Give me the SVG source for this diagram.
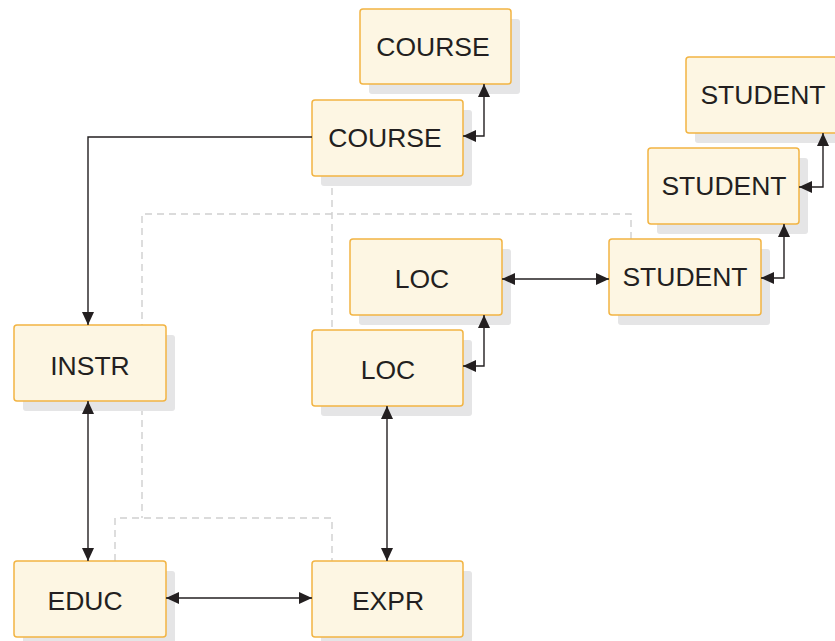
<svg xmlns="http://www.w3.org/2000/svg" width="835" height="641" viewBox="0 0 835 641">
<style>
.sh{fill:#e5e5e6}
.bx{fill:#fdf6e3;stroke:#f2b443;stroke-width:1.5}
.t{font-family:"Liberation Sans",Arial,sans-serif;font-size:26.5px;fill:#231f20;text-anchor:middle}
.c{fill:none;stroke:#231f20;stroke-width:1.4}
.d{fill:none;stroke:#cfcfcf;stroke-width:1.4;stroke-dasharray:7,5}
</style>
<defs>
<marker id="ah" markerUnits="userSpaceOnUse" markerWidth="14" markerHeight="14" refX="13" refY="7" orient="auto-start-reverse">
<path d="M0,1 L13,7 L0,13 z" fill="#231f20"/>
</marker>
</defs>
<g id="dashed">
<path class="d" d="M631,239 V214 H142 V518"/>
<path class="d" d="M115,561 V518 H332 V561"/>
<path class="d" d="M332,176 V330"/>
</g>
<g id="n-course1"><rect class="sh" x="369" y="19" width="151" height="75" rx="3"/><rect class="bx" x="360" y="9" width="151" height="75" rx="3"/><text class="t" x="433" y="56">COURSE</text></g>
<g id="n-course2"><rect class="sh" x="321" y="110" width="151" height="76" rx="3"/><rect class="bx" x="312" y="100" width="151" height="76" rx="3"/><text class="t" x="385" y="147">COURSE</text></g>
<g id="n-student1"><rect class="sh" x="695" y="67" width="151" height="76" rx="3"/><rect class="bx" x="686" y="57" width="151" height="76" rx="3"/><text class="t" x="763" y="104">STUDENT</text></g>
<g id="n-student2"><rect class="sh" x="657" y="158" width="151" height="76" rx="3"/><rect class="bx" x="648" y="148" width="151" height="76" rx="3"/><text class="t" x="724" y="195">STUDENT</text></g>
<g id="n-student3"><rect class="sh" x="618" y="249" width="152" height="76" rx="3"/><rect class="bx" x="609" y="239" width="152" height="76" rx="3"/><text class="t" x="685" y="286">STUDENT</text></g>
<g id="n-loc1"><rect class="sh" x="359" y="249" width="152" height="76" rx="3"/><rect class="bx" x="350" y="239" width="152" height="76" rx="3"/><text class="t" x="422" y="288">LOC</text></g>
<g id="n-loc2"><rect class="sh" x="321" y="340" width="151" height="76" rx="3"/><rect class="bx" x="312" y="330" width="151" height="76" rx="3"/><text class="t" x="388" y="379">LOC</text></g>
<g id="n-instr"><rect class="sh" x="23" y="335" width="152" height="76" rx="3"/><rect class="bx" x="14" y="325" width="152" height="76" rx="3"/><text class="t" x="90" y="375">INSTR</text></g>
<g id="n-educ"><rect class="sh" x="23" y="571" width="152" height="76" rx="3"/><rect class="bx" x="14" y="561" width="152" height="76" rx="3"/><text class="t" x="85" y="610">EDUC</text></g>
<g id="n-expr"><rect class="sh" x="321" y="571" width="151" height="76" rx="3"/><rect class="bx" x="312" y="561" width="151" height="76" rx="3"/><text class="t" x="388" y="610">EXPR</text></g>
<g id="connectors">
<path class="c" d="M463,136 H484 V84" marker-start="url(#ah)" marker-end="url(#ah)"/>
<path class="c" d="M312,137 H88 V325" marker-end="url(#ah)"/>
<path class="c" d="M799,187 H823 V133" marker-start="url(#ah)" marker-end="url(#ah)"/>
<path class="c" d="M761,278 H784 V224" marker-start="url(#ah)" marker-end="url(#ah)"/>
<path class="c" d="M502,279 H609" marker-start="url(#ah)" marker-end="url(#ah)"/>
<path class="c" d="M463,366 H484 V315" marker-start="url(#ah)" marker-end="url(#ah)"/>
<path class="c" d="M88,401 V561" marker-start="url(#ah)" marker-end="url(#ah)"/>
<path class="c" d="M387,406 V561" marker-start="url(#ah)" marker-end="url(#ah)"/>
<path class="c" d="M166,598 H312" marker-start="url(#ah)" marker-end="url(#ah)"/>
</g>
</svg>
